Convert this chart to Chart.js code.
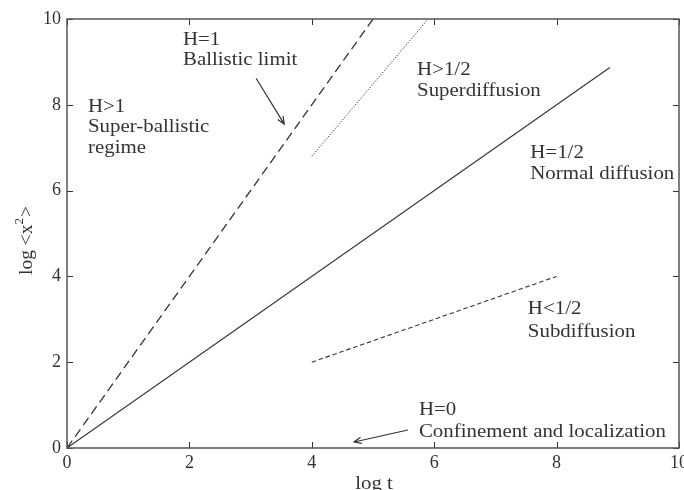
<!DOCTYPE html>
<html><head><meta charset="utf-8">
<script src="https://cdn.jsdelivr.net/npm/chart.js@4"></script>
<style>html,body{margin:0;padding:0;background:#fff}#c{display:block}</style>
</head><body>
<canvas id="c" width="684" height="490"></canvas>
<script>
// ---- data ----
const xTicks = [0, 2, 4, 6, 8, 10];
const yTicks = [0, 2, 4, 6, 8, 10];

const ballisticX = [0, 5];     const ballisticY = [0, 10];     // H=1
const superX     = [4, 5.9];   const superY     = [6.8, 10];   // H>1/2
const normalX    = [0, 8.87];  const normalY    = [0, 8.87];   // H=1/2
const subX       = [4, 8];     const subY       = [2, 4];      // H<1/2

const noteText = ["H=1", "Ballistic limit", "H>1", "Super-ballistic", "regime",
                  "H>1/2", "Superdiffusion", "H=1/2", "Normal diffusion",
                  "H<1/2", "Subdiffusion", "H=0", "Confinement and localization"];
const noteX = [1.895, 1.895, 0.343, 0.343, 0.343, 5.72, 5.72, 7.57, 7.57, 7.53, 7.53, 5.75, 5.75];
const noteY = [9.39, 8.93, 7.83, 7.37, 6.88, 8.69, 8.21, 6.76, 6.27, 3.12, 2.59, 0.77, 0.26];

const arrowFromX = [3.09, 5.57]; const arrowFromY = [8.62, 0.42];
const arrowToX   = [3.55, 4.69]; const arrowToY   = [7.55, 0.14];

const xTitle = "log t";
const yTitle = ["log <x", "2", ">"];

// ---- helpers ----
const pts = (xs, ys) => xs.map((v, i) => ({ x: v, y: ys[i] }));
const FONT = "'Liberation Serif', 'Times New Roman', serif";
const INK = '#333';
const STRETCH = 1.16;

function stretchedText(ctx, txt, x, y, size) {
  ctx.save();
  ctx.translate(x, y);
  ctx.scale(STRETCH, 1);
  ctx.font = size + 'px ' + FONT;
  ctx.fillText(txt, 0, 0);
  ctx.restore();
}

const overlay = {
  id: 'overlay',
  afterDraw(chart) {
    const { ctx, chartArea: a, scales: { x, y } } = chart;
    ctx.save();
    // inward ticks on all sides
    ctx.strokeStyle = INK; ctx.lineWidth = 1;
    ctx.beginPath();
    xTicks.forEach(v => {
      const p = Math.round(x.getPixelForValue(v)) + 0.5;
      ctx.moveTo(p, a.bottom); ctx.lineTo(p, a.bottom - 6);
      ctx.moveTo(p, a.top); ctx.lineTo(p, a.top + 6);
    });
    yTicks.forEach(v => {
      const p = Math.round(y.getPixelForValue(v)) + 0.5;
      ctx.moveTo(a.left, p); ctx.lineTo(a.left + 6, p);
      ctx.moveTo(a.right, p); ctx.lineTo(a.right - 6, p);
    });
    ctx.stroke();
    // frame
    ctx.strokeStyle = '#555'; ctx.lineWidth = 1.5;
    ctx.strokeRect(a.left, a.top, a.right - a.left, a.bottom - a.top);

    // arrows
    ctx.strokeStyle = INK; ctx.lineWidth = 1.2;
    arrowFromX.forEach((_, i) => {
      const x0 = x.getPixelForValue(arrowFromX[i]), y0 = y.getPixelForValue(arrowFromY[i]);
      const x1 = x.getPixelForValue(arrowToX[i]),   y1 = y.getPixelForValue(arrowToY[i]);
      const ang = Math.atan2(y1 - y0, x1 - x0), L = 8, h = 0.4;
      ctx.beginPath();
      ctx.moveTo(x0, y0); ctx.lineTo(x1, y1);
      ctx.moveTo(x1 - L * Math.cos(ang - h), y1 - L * Math.sin(ang - h));
      ctx.lineTo(x1, y1);
      ctx.lineTo(x1 - L * Math.cos(ang + h), y1 - L * Math.sin(ang + h));
      ctx.stroke();
    });

    // annotations
    ctx.fillStyle = INK;
    ctx.textAlign = 'left'; ctx.textBaseline = 'alphabetic';
    noteText.forEach((t, i) => {
      stretchedText(ctx, t, x.getPixelForValue(noteX[i]), y.getPixelForValue(noteY[i]), 18);
    });

    // x title
    ctx.save();
    ctx.font = '18px ' + FONT;
    const cx = (a.left + a.right) / 2;
    const w = ctx.measureText(xTitle).width * STRETCH;
    ctx.restore();
    stretchedText(ctx, xTitle, (a.left + a.right) / 2 - w / 2 + 1, 489, 18);

    // y title (rotated, with superscript)
    ctx.save();
    ctx.translate(32, (a.top + a.bottom) / 2 + 7);
    ctx.rotate(-Math.PI / 2);
    ctx.scale(1.08, 1);
    ctx.font = '18px ' + FONT;
    const w0 = ctx.measureText(yTitle[0]).width;
    ctx.font = '12px ' + FONT;
    const w1 = ctx.measureText(yTitle[1]).width;
    ctx.font = '18px ' + FONT;
    const w2 = ctx.measureText(yTitle[2]).width;
    let sx = -(w0 + w1 + w2 + 1) / 2;
    ctx.fillText(yTitle[0], sx, 0); sx += w0;
    ctx.font = '12px ' + FONT;
    ctx.fillText(yTitle[1], sx, -9); sx += w1 + 1;
    ctx.font = '18px ' + FONT;
    ctx.fillText(yTitle[2], sx, 0);
    ctx.restore();

    ctx.restore();
  }
};

const lineDs = (data, dash, width) => ({
  data, showLine: true, pointRadius: 0, borderColor: INK, borderWidth: width,
  borderDash: dash, fill: false, tension: 0
});

new Chart(document.getElementById('c'), {
  type: 'scatter',
  data: {
    datasets: [
      lineDs(pts(ballisticX, ballisticY), [9, 5], 1.3),
      lineDs(pts(superX, superY), [1.2, 1.6], 1),
      lineDs(pts(normalX, normalY), [], 1.1),
      lineDs(pts(subX, subY), [4.5, 2.8], 1.1)
    ]
  },
  options: {
    responsive: false, animation: false,
    layout: { padding: { left: 0, right: 5, top: 19, bottom: 0 } },
    plugins: { legend: { display: false }, tooltip: { enabled: false } },
    scales: {
      x: {
        type: 'linear', min: 0, max: 10,
        afterBuildTicks: s => { s.ticks = xTicks.map(v => ({ value: v })); },
        afterFit: s => { s.height = 42; s.paddingLeft = 0; s.paddingRight = 0; },
        ticks: { font: { family: FONT, size: 18 }, color: INK, padding: 4, maxRotation: 0,
                 callback: v => String(v) },
        grid: { display: false, drawTicks: false }, border: { display: false }
      },
      y: {
        type: 'linear', min: 0, max: 10,
        afterBuildTicks: s => { s.ticks = yTicks.map(v => ({ value: v })); },
        afterFit: s => { s.width = 67; s.paddingTop = 0; s.paddingBottom = 0; },
        ticks: { font: { family: FONT, size: 18 }, color: INK, padding: 6,
                 callback: v => String(v) },
        grid: { display: false, drawTicks: false }, border: { display: false }
      }
    }
  },
  plugins: [overlay]
});
</script>
</body></html>
